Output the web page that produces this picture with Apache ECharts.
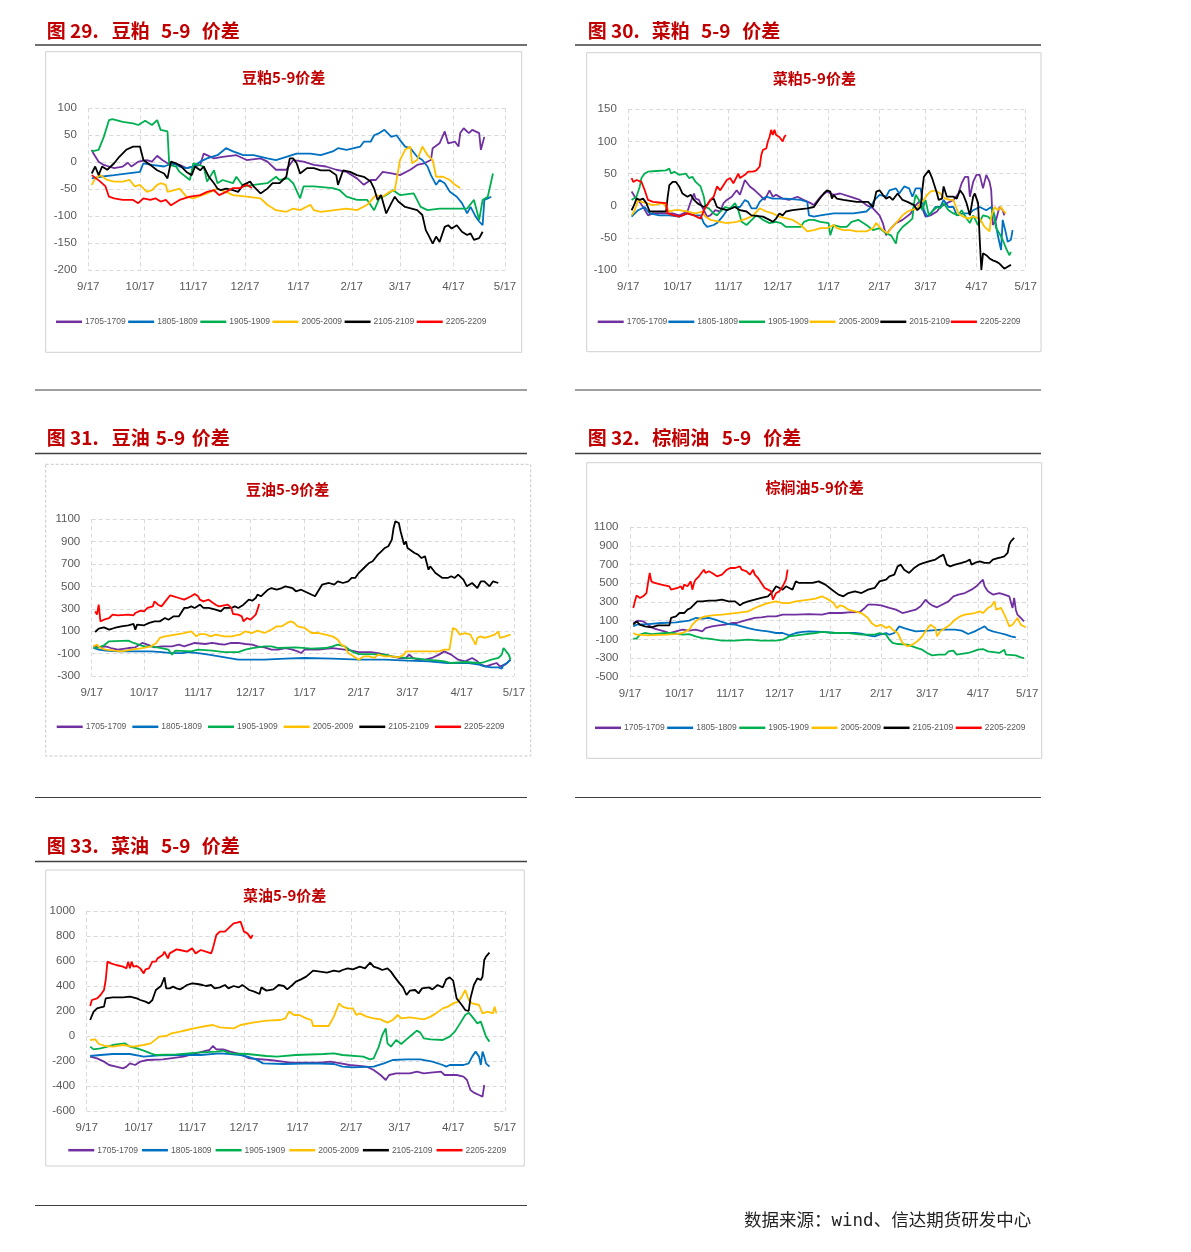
<!DOCTYPE html>
<html><head><meta charset="utf-8">
<script src="https://cdn.jsdelivr.net/npm/echarts@6/dist/echarts.min.js"></script>
<style>html,body{margin:0;padding:0;background:#fff}#c{width:1191px;height:1252px}</style>
</head><body><div id="c"></div>
<script>
// ---------- DATA ----------
const monthTicks = ['9/17','10/17','11/17','12/17','1/17','2/17','3/17','4/17','5/17'];
const namesStd = ['1705-1709','1805-1809','1905-1909','2005-2009','2105-2109','2205-2209'];
const namesRm = ['1705-1709','1805-1809','1905-1909','2005-2009','2015-2109','2205-2209'];
// each point: [day index since 9/17, value]

// 豆粕 5-9
const sm1705 = [[2,23],[3,16],[6,1],[9,-5],[12,-8],[15,-11],[20,-8],[23,-1],[25,-8],[29,1],[34,4],[37,1],[40,12],[43,4],[46,-2],[53,-5],[57,-11],[61,-8],[65,-5],[67,16],[73,7],[78,10],[86,13],[92,4],[100,7],[104,1],[109,-14],[115,-14],[119,4],[125,1],[131,-5],[138,-8],[144,-14],[150,-18],[156,-30],[160,-42],[164,-33],[167,-33],[171,-18],[177,-21],[181,-24],[187,-14],[191,-5],[195,-2],[199,4],[200,26],[204,35],[207,57],[209,35],[213,38],[215,29],[216,54],[218,63],[221,54],[223,60],[227,54],[228,23],[230,47]];
const sm1805 = [[2,-30],[7,-27],[15,-24],[30,-18],[32,-2],[37,-5],[44,-8],[49,-2],[53,-8],[57,-11],[61,-8],[65,1],[69,7],[75,13],[80,26],[84,20],[90,13],[96,13],[104,7],[109,4],[115,10],[121,16],[129,16],[135,13],[142,20],[145,26],[150,23],[158,29],[160,38],[164,38],[166,50],[169,54],[172,60],[176,47],[179,50],[181,41],[184,29],[187,26],[191,10],[194,4],[197,-8],[199,-24],[202,-42],[204,-33],[207,-39],[210,-55],[214,-64],[217,-76],[220,-95],[222,-83],[225,-101],[227,-110],[229,-117],[230,-70],[232,-67],[234,-64]];
const sm1905 = [[2,20],[6,23],[9,47],[12,78],[14,80],[20,75],[26,72],[29,69],[33,77],[37,69],[40,78],[42,60],[46,57],[47,-5],[51,-8],[53,-18],[59,-33],[61,-2],[67,-8],[69,-36],[73,-15],[75,-39],[78,-33],[84,-39],[86,-27],[90,-45],[96,-42],[104,-39],[109,-27],[111,-33],[116,-30],[119,-39],[123,-67],[125,-45],[131,-45],[142,-48],[146,-52],[150,-64],[156,-70],[162,-70],[166,-89],[169,-67],[173,-61],[177,-52],[181,-61],[189,-58],[193,-83],[197,-89],[204,-86],[212,-86],[220,-86],[224,-70],[227,-107],[229,-70],[232,-64],[233,-61],[235,-21]];
const sm2005 = [[2,-42],[4,-30],[7,-24],[11,-33],[15,-36],[20,-36],[24,-33],[27,-45],[30,-42],[34,-55],[37,-52],[40,-42],[42,-39],[45,-42],[46,-55],[50,-52],[53,-49],[57,-64],[61,-67],[69,-58],[75,-49],[80,-55],[84,-61],[92,-64],[100,-67],[104,-79],[109,-89],[115,-92],[119,-86],[123,-89],[129,-79],[131,-89],[135,-92],[150,-86],[156,-89],[162,-79],[167,-61],[171,-64],[175,-55],[178,-52],[181,4],[184,23],[187,29],[188,-2],[191,4],[194,29],[197,13],[200,4],[202,-27],[206,-27],[210,-33],[213,-42],[216,-48]];
const sm2105 = [[2,-21],[4,-8],[6,-24],[8,-8],[11,-14],[15,-2],[18,10],[22,23],[26,29],[30,29],[32,4],[36,-5],[40,-15],[44,-21],[46,-30],[48,1],[51,-2],[54,-8],[57,-18],[60,-24],[62,-8],[65,-15],[67,-8],[70,-27],[73,-39],[75,-49],[77,-52],[80,-49],[84,-52],[87,-55],[90,-42],[94,-36],[96,-45],[100,-58],[104,-49],[107,-39],[111,-39],[115,-27],[117,7],[119,7],[121,-2],[123,-21],[127,-11],[131,-11],[135,-15],[140,-15],[144,-24],[145,-42],[148,-15],[152,-18],[156,-24],[160,-27],[164,-36],[166,-49],[168,-70],[170,-61],[173,-95],[176,-76],[178,-64],[180,-73],[184,-83],[191,-89],[194,-98],[196,-126],[198,-138],[200,-151],[202,-138],[204,-148],[207,-120],[209,-117],[211,-123],[214,-117],[217,-129],[220,-135],[222,-132],[224,-144],[227,-141],[228,-135],[229,-129]];
const sm2205 = [[2,-24],[7,-36],[10,-45],[12,-64],[15,-67],[20,-70],[26,-70],[29,-76],[32,-67],[36,-70],[39,-67],[42,-73],[45,-70],[48,-80],[53,-70],[59,-64],[65,-61],[69,-55],[73,-52],[76,-61],[80,-55],[84,-48],[88,-48],[92,-42],[95,-48]];

// 菜粕 5-9
const rm1705 = [[2,22],[4,14],[6,9],[9,-2],[12,-15],[15,-12],[21,-12],[27,-12],[31,-15],[36,-9],[38,6],[40,19],[41,11],[43,9],[45,-2],[48,-17],[50,-15],[53,-7],[56,-9],[58,4],[60,9],[63,14],[66,24],[68,17],[71,40],[72,43],[74,30],[77,24],[80,17],[83,9],[86,24],[88,14],[90,17],[94,11],[98,9],[103,14],[107,9],[111,4],[113,1],[117,14],[121,22],[125,17],[129,19],[135,14],[141,9],[145,1],[149,-4],[153,-15],[155,-27],[157,-46],[159,-38],[163,-27],[167,-22],[172,-12],[174,-2],[177,6],[179,-4],[181,-17],[184,-15],[188,-9],[190,-2],[194,4],[198,9],[201,19],[203,35],[205,45],[207,45],[208,14],[210,37],[212,48],[214,48],[216,27],[218,48],[220,37],[221,24],[222,-30],[224,-22],[226,-2],[228,-7],[229,-15]];
const rm1805 = [[2,-17],[4,-12],[6,-7],[10,-2],[13,-12],[19,-15],[25,-15],[31,-17],[36,-12],[40,-15],[44,-15],[46,-27],[48,-33],[52,-30],[54,-27],[58,-15],[60,-7],[64,-2],[68,-2],[71,9],[73,6],[75,-4],[78,-4],[80,6],[82,11],[84,14],[88,11],[96,11],[105,9],[109,6],[110,-15],[113,-17],[117,-15],[125,-12],[137,-12],[145,-9],[147,-4],[150,9],[153,17],[157,14],[159,24],[163,27],[165,19],[168,30],[171,27],[173,14],[175,27],[178,27],[180,-7],[182,-17],[185,-9],[187,-2],[190,-2],[192,9],[195,-2],[198,-2],[200,-15],[204,-12],[208,-12],[210,-7],[214,-2],[218,-7],[221,-2],[223,-15],[225,-46],[227,-69],[228,-22],[230,-43],[231,-56],[233,-53],[234,-38]];
const rm1905 = [[2,9],[5,14],[7,30],[8,43],[10,50],[12,53],[17,54],[23,55],[25,58],[26,50],[28,53],[31,48],[35,50],[37,43],[39,45],[41,37],[44,30],[46,14],[47,-2],[49,-4],[52,-12],[54,-15],[56,-9],[59,-2],[62,-4],[65,4],[67,-7],[69,-25],[72,-30],[76,-20],[78,-15],[82,-22],[86,-27],[90,-25],[93,-27],[96,-33],[105,-33],[107,-25],[110,-22],[113,-22],[117,-25],[122,-27],[123,-46],[125,-30],[129,-33],[133,-33],[136,-25],[140,-22],[145,-30],[149,-38],[153,-35],[157,-43],[160,-46],[163,-59],[164,-43],[167,-33],[170,-27],[173,-20],[174,4],[175,17],[177,9],[179,-7],[181,9],[183,-15],[185,-9],[188,-2],[190,-4],[192,4],[195,-7],[198,-12],[201,-15],[203,-7],[206,-20],[208,-27],[210,-15],[213,-30],[216,-15],[219,-17],[221,-22],[222,-4],[224,-35],[226,-43],[228,-53],[230,-66],[232,-77],[233,-72]];
const rm2005 = [[2,-15],[4,-7],[6,9],[8,6],[11,4],[15,1],[21,4],[23,-2],[25,-9],[28,-7],[31,-7],[36,-9],[41,-12],[45,-9],[47,-17],[50,-22],[56,-25],[60,-27],[66,-25],[72,-20],[76,-15],[80,-4],[84,-9],[88,-12],[92,-17],[100,-22],[105,-30],[109,-40],[113,-38],[117,-35],[121,-35],[125,-30],[127,-35],[131,-38],[135,-38],[139,-40],[145,-40],[149,-35],[151,-27],[153,-33],[155,-38],[158,-43],[160,-35],[163,-27],[167,-15],[170,-9],[172,-7],[176,-4],[178,4],[180,9],[182,17],[184,22],[187,24],[190,19],[193,11],[196,9],[198,9],[201,-12],[204,-17],[207,-20],[210,-17],[214,-20],[217,-33],[220,-40],[221,-17],[223,-2],[225,-7],[227,-2],[228,-7],[230,-12]];
const rm2105 = [[2,-7],[3,-2],[4,4],[5,11],[7,9],[9,11],[11,4],[13,-9],[15,-9],[23,-9],[24,14],[25,32],[27,37],[29,37],[31,30],[33,19],[36,14],[38,17],[40,9],[42,4],[46,-2],[48,1],[50,9],[52,11],[54,-2],[56,-4],[60,-7],[65,-2],[68,-7],[72,-9],[75,-15],[82,-17],[86,-22],[88,-25],[90,-20],[92,-12],[94,-15],[96,-9],[100,-7],[109,-4],[113,-2],[116,9],[119,19],[121,24],[123,22],[124,11],[125,17],[127,11],[131,9],[139,6],[146,6],[149,-2],[151,22],[153,24],[155,17],[157,11],[159,14],[161,9],[164,19],[167,9],[170,6],[174,1],[176,-7],[178,-2],[179,24],[180,45],[183,55],[184,58],[185,43],[186,35],[188,19],[189,9],[191,11],[192,30],[194,14],[198,14],[200,11],[202,24],[204,17],[206,4],[208,-15],[210,14],[211,19],[213,4],[214,-53],[215,-100],[216,-74],[218,-77],[220,-82],[222,-85],[224,-87],[226,-90],[229,-98],[231,-95],[233,-92]];
const rm2205 = [[2,43],[3,37],[5,40],[6,43],[8,37],[10,24],[12,9],[15,6],[23,4],[24,-12],[28,-15],[31,-17],[36,-12],[40,-15],[44,-20],[46,-7],[50,9],[52,14],[54,30],[56,24],[60,40],[62,43],[64,35],[67,50],[68,43],[71,48],[73,53],[76,53],[78,55],[80,61],[81,79],[82,87],[84,89],[85,100],[86,107],[87,118],[88,110],[89,118],[90,110],[92,107],[94,100],[95,107],[96,110]];

// 豆油 5-9
const yo1705 = [[1,-35],[4,-44],[8,-35],[11,-50],[15,-65],[21,-50],[25,-44],[29,-5],[32,-20],[36,-44],[40,-35],[46,-35],[50,-20],[53,-35],[59,-5],[65,-14],[69,-5],[73,-14],[76,-20],[80,-5],[84,-5],[88,-14],[92,-20],[95,-35],[99,-44],[103,-65],[107,-65],[111,-50],[115,-65],[118,-80],[120,-95],[122,-65],[130,-65],[138,-50],[145,-65],[149,-74],[153,-86],[160,-86],[164,-95],[168,-109],[172,-124],[176,-139],[180,-139],[182,-109],[184,-139],[187,-154],[191,-154],[195,-139],[199,-109],[202,-80],[206,-109],[210,-154],[214,-169],[218,-139],[221,-169],[223,-199],[226,-214],[229,-199],[232,-184],[234,-214],[235,-229],[237,-199],[239,-169],[240,-154]];
const yo1805 = [[1,-50],[4,-65],[8,-74],[15,-80],[27,-80],[34,-80],[40,-86],[46,-95],[52,-95],[55,-86],[61,-95],[67,-109],[73,-124],[78,-139],[84,-154],[99,-154],[111,-145],[122,-139],[138,-145],[153,-154],[168,-154],[181,-163],[193,-169],[204,-184],[216,-184],[222,-199],[225,-214],[229,-223],[233,-223],[235,-235],[236,-199],[238,-184],[240,-154]];
const yo1905 = [[1,-50],[4,-44],[7,-26],[10,10],[11,16],[21,16],[24,-5],[27,-20],[30,-35],[34,-35],[40,-50],[44,-65],[46,-109],[48,-74],[57,-80],[61,-65],[69,-74],[76,-86],[84,-86],[88,-65],[92,-50],[99,-35],[103,-35],[107,-50],[117,-44],[126,-56],[134,-50],[138,-35],[141,-20],[145,-35],[149,-80],[153,-104],[160,-104],[168,-109],[172,-124],[180,-139],[187,-145],[191,-154],[199,-163],[202,-169],[206,-184],[214,-175],[222,-184],[225,-175],[229,-154],[233,-139],[235,-109],[236,-50],[237,-65],[239,-109],[240,-154]];
const yo2005 = [[1,-35],[3,-20],[5,-50],[8,-65],[13,-74],[17,-80],[23,-65],[29,-50],[34,-35],[37,-5],[39,40],[42,54],[48,69],[53,84],[57,99],[60,54],[62,75],[65,75],[68,54],[71,69],[76,54],[80,54],[85,69],[88,99],[92,84],[95,105],[99,84],[103,114],[106,144],[109,144],[112,174],[114,188],[116,174],[118,144],[122,129],[126,84],[130,84],[134,69],[138,54],[141,25],[143,-20],[145,-35],[147,-95],[150,-124],[153,-154],[156,-124],[159,-124],[162,-139],[164,-109],[168,-124],[172,-124],[176,-133],[179,-109],[180,-80],[183,-80],[187,-80],[195,-80],[199,-80],[202,-65],[205,-65],[207,129],[209,114],[211,69],[214,84],[217,69],[220,-20],[221,40],[223,54],[225,40],[228,54],[231,69],[233,99],[234,40],[237,54],[240,69]];
const yo2105 = [[2,93],[4,123],[7,135],[10,114],[13,129],[17,144],[21,153],[24,165],[25,114],[26,159],[30,153],[33,174],[36,188],[39,188],[42,218],[44,203],[47,233],[50,233],[53,308],[55,308],[57,322],[59,308],[62,337],[64,308],[67,308],[71,293],[74,278],[76,308],[80,308],[82,322],[84,308],[87,337],[90,382],[92,373],[94,397],[95,427],[97,412],[101,471],[103,486],[106,471],[109,486],[111,501],[115,486],[117,457],[120,471],[124,442],[128,412],[132,516],[136,531],[139,516],[141,546],[144,531],[147,546],[149,576],[151,576],[153,620],[156,665],[159,710],[161,725],[164,784],[166,814],[168,844],[170,859],[172,918],[173,1023],[174,1082],[176,1067],[177,993],[179,874],[180,903],[181,844],[185,799],[187,784],[189,754],[191,769],[193,650],[194,680],[197,620],[201,576],[204,576],[206,591],[208,576],[210,605],[213,561],[215,501],[218,531],[221,486],[223,546],[225,546],[228,501],[230,546],[233,531]];
const yo2205 = [[2,278],[3,248],[4,337],[5,188],[7,203],[10,218],[11,233],[12,248],[15,242],[21,248],[24,242],[25,263],[28,284],[30,278],[32,308],[33,293],[35,322],[36,367],[38,337],[40,322],[43,382],[45,421],[47,412],[50,397],[53,382],[57,412],[59,433],[61,412],[62,382],[64,367],[67,382],[71,337],[73,322],[76,331],[78,337],[80,308],[81,254],[84,248],[86,233],[87,188],[89,218],[91,203],[94,248],[95,293],[96,343]];

// 棕榈油 5-9
const py1705 = [[2,75],[3,93],[5,100],[8,93],[11,57],[14,21],[17,4],[21,-14],[24,-32],[28,-14],[32,4],[36,-7],[40,4],[44,-14],[46,21],[50,39],[54,50],[58,57],[62,75],[65,75],[68,93],[72,111],[76,129],[80,136],[84,146],[89,146],[93,164],[101,164],[109,171],[117,164],[121,182],[129,182],[133,189],[140,193],[143,236],[145,271],[149,271],[153,264],[158,236],[162,218],[166,182],[170,200],[174,218],[177,254],[180,325],[182,289],[184,264],[187,243],[190,271],[194,307],[197,361],[200,379],[204,396],[208,432],[211,468],[213,504],[215,539],[216,468],[218,414],[221,379],[225,396],[228,379],[231,361],[233,236],[234,343],[235,218],[236,164],[238,129],[240,93]];
const py1805 = [[2,39],[4,57],[11,64],[19,75],[28,82],[36,100],[40,129],[44,121],[48,129],[52,111],[56,86],[60,64],[64,57],[68,39],[72,21],[76,4],[80,-7],[84,-14],[89,-32],[93,-32],[97,-57],[101,-32],[105,-21],[109,-14],[117,-21],[125,-32],[137,-32],[141,-39],[145,-57],[149,-68],[152,-50],[156,-32],[158,-50],[161,-32],[164,39],[167,21],[170,4],[174,-14],[182,-7],[190,4],[198,4],[202,-7],[206,-43],[210,-14],[214,21],[216,39],[218,4],[221,-14],[225,-32],[229,-50],[232,-68],[235,-79]];
const py1905 = [[2,-93],[4,-93],[6,-50],[9,-32],[13,-43],[22,-32],[26,-32],[32,-50],[36,-43],[40,-68],[44,-86],[48,-93],[52,-104],[56,-114],[64,-114],[72,-104],[80,-114],[89,-114],[93,-104],[97,-68],[105,-50],[113,-32],[117,-21],[125,-32],[133,-32],[141,-50],[149,-50],[152,-32],[156,-50],[158,-104],[160,-139],[163,-150],[169,-157],[172,-175],[175,-193],[178,-211],[181,-246],[184,-271],[188,-264],[192,-264],[194,-229],[197,-221],[199,-264],[206,-246],[209,-229],[212,-211],[215,-204],[218,-229],[225,-246],[228,-211],[229,-264],[235,-271],[238,-293],[240,-300]];
const py2005 = [[2,-32],[4,-50],[11,-57],[22,-50],[28,-43],[32,-32],[36,4],[38,57],[40,93],[43,129],[46,146],[50,157],[56,164],[64,182],[72,200],[76,236],[80,264],[84,289],[89,307],[93,289],[97,289],[101,307],[109,325],[113,336],[117,361],[119,343],[121,325],[124,289],[126,236],[128,264],[130,254],[133,218],[137,200],[141,182],[145,129],[147,75],[150,39],[153,57],[156,21],[158,39],[160,4],[163,-32],[166,-139],[169,-175],[172,-157],[175,-121],[178,-68],[180,-14],[183,57],[186,21],[187,-68],[189,-14],[192,21],[195,57],[198,111],[201,146],[204,164],[210,182],[213,200],[215,182],[218,236],[220,254],[222,307],[223,218],[226,236],[229,129],[231,39],[233,57],[236,129],[238,57],[241,29]];
const py2105 = [[2,57],[4,93],[6,57],[9,39],[13,29],[17,50],[24,50],[25,129],[28,146],[30,182],[33,182],[35,218],[37,236],[39,271],[41,307],[44,307],[48,314],[52,314],[56,325],[60,307],[64,307],[67,264],[69,289],[72,307],[76,325],[80,343],[84,361],[87,414],[89,468],[91,450],[93,432],[95,468],[97,450],[99,432],[101,521],[103,504],[107,504],[111,504],[115,521],[119,486],[123,432],[127,379],[130,361],[133,396],[137,414],[141,396],[145,432],[149,450],[152,521],[156,539],[158,575],[161,593],[163,682],[165,700],[167,646],[170,611],[173,664],[176,700],[179,718],[182,736],[186,754],[189,789],[191,807],[193,700],[195,682],[198,700],[202,718],[205,736],[207,754],[208,700],[210,718],[213,736],[216,718],[219,718],[221,754],[224,771],[226,779],[228,789],[230,825],[231,914],[232,950],[233,968],[234,986]];
const py2205 = [[2,236],[3,307],[4,371],[6,343],[8,361],[10,396],[11,504],[12,611],[13,521],[15,504],[19,486],[24,468],[25,432],[26,450],[29,450],[31,468],[32,432],[33,486],[35,468],[37,521],[38,432],[39,504],[40,539],[42,575],[43,557],[45,646],[46,611],[48,629],[50,611],[53,575],[56,593],[59,646],[61,664],[64,664],[67,682],[68,646],[71,629],[73,593],[75,646],[76,593],[78,557],[80,504],[82,450],[84,432],[86,414],[87,325],[89,396],[91,414],[93,468],[95,539],[96,646]];

// 菜油 5-9
const co1705 = [[2,-165],[6,-179],[10,-205],[13,-232],[17,-245],[21,-259],[23,-245],[25,-219],[28,-232],[31,-205],[35,-192],[44,-187],[56,-165],[62,-144],[67,-125],[71,-112],[73,-80],[75,-107],[79,-107],[83,-125],[87,-139],[91,-160],[94,-179],[106,-192],[118,-213],[135,-213],[141,-205],[147,-219],[152,-232],[162,-245],[166,-272],[170,-312],[173,-352],[175,-312],[179,-299],[187,-299],[191,-285],[195,-299],[199,-293],[205,-285],[207,-312],[214,-312],[218,-325],[220,-352],[222,-432],[224,-453],[227,-472],[229,-485],[230,-392]];
const co1805 = [[2,-160],[8,-152],[15,-144],[25,-144],[33,-165],[42,-155],[54,-152],[66,-152],[77,-139],[83,-144],[89,-152],[93,-165],[98,-187],[102,-219],[114,-224],[131,-219],[143,-224],[148,-245],[154,-251],[166,-245],[172,-219],[177,-192],[185,-187],[193,-187],[200,-205],[206,-232],[208,-245],[210,-232],[218,-232],[221,-219],[223,-165],[225,-125],[227,-165],[228,-232],[229,-125],[230,-165],[231,-219],[233,-245]];
const co1905 = [[2,-85],[4,-107],[8,-99],[12,-85],[15,-72],[22,-59],[25,-85],[29,-99],[33,-117],[37,-139],[40,-152],[52,-147],[64,-133],[75,-125],[79,-117],[83,-139],[93,-144],[104,-160],[110,-165],[121,-152],[137,-144],[143,-139],[148,-152],[160,-165],[164,-187],[166,-179],[169,-85],[171,8],[173,61],[174,-59],[176,-85],[179,-32],[182,-64],[185,-27],[188,8],[191,43],[193,27],[195,-19],[199,-27],[206,-32],[210,-5],[213,35],[216,101],[219,168],[221,187],[223,155],[226,101],[228,115],[229,101],[231,-5],[233,-45]];
const co2005 = [[2,-32],[3,-45],[5,-27],[7,-64],[11,-80],[15,-85],[21,-72],[27,-85],[33,-72],[37,-59],[40,-27],[42,-5],[46,0],[49,21],[54,35],[58,48],[62,61],[69,80],[73,88],[77,69],[85,61],[89,88],[96,107],[104,123],[112,128],[115,141],[117,195],[120,168],[123,168],[127,141],[130,128],[131,80],[140,80],[143,155],[146,261],[148,235],[151,221],[154,221],[156,168],[158,181],[162,155],[166,141],[170,133],[174,107],[177,128],[180,168],[182,141],[187,149],[195,133],[199,155],[202,181],[206,221],[209,235],[212,261],[215,275],[217,315],[219,368],[221,288],[223,261],[227,248],[229,181],[232,195],[235,181],[236,235],[237,181]];
const co2105 = [[2,128],[3,141],[4,195],[6,221],[8,229],[10,235],[11,301],[12,315],[15,309],[21,309],[25,315],[29,301],[31,288],[34,275],[36,261],[38,288],[40,368],[41,381],[43,400],[45,469],[46,381],[48,381],[50,395],[52,381],[54,373],[56,389],[58,408],[61,421],[64,416],[67,408],[69,400],[72,408],[74,381],[77,389],[80,408],[82,381],[85,400],[88,389],[90,408],[92,389],[94,368],[97,355],[100,336],[101,389],[104,363],[108,373],[111,408],[114,400],[116,373],[119,408],[121,435],[124,453],[127,475],[131,523],[135,515],[139,507],[143,523],[146,515],[148,528],[151,541],[154,533],[158,555],[161,541],[164,587],[166,555],[169,541],[171,528],[174,541],[176,515],[178,475],[181,421],[183,389],[185,328],[187,363],[190,368],[192,341],[194,381],[198,389],[200,373],[203,408],[206,389],[208,453],[210,469],[212,443],[214,301],[217,248],[219,208],[221,200],[222,301],[224,408],[226,461],[228,448],[229,475],[230,608],[231,635],[233,667]];
const co2205 = [[2,240],[3,288],[4,275],[6,301],[8,328],[10,368],[11,448],[12,595],[13,608],[14,581],[17,568],[21,555],[23,541],[24,595],[25,541],[26,595],[27,555],[29,560],[31,541],[33,501],[34,533],[36,541],[38,595],[40,595],[41,621],[42,635],[44,648],[45,675],[47,621],[48,661],[52,693],[54,688],[55,675],[58,675],[61,701],[63,661],[66,688],[69,675],[72,661],[73,701],[75,808],[77,835],[80,835],[81,848],[83,875],[85,901],[87,907],[89,915],[90,901],[91,835],[93,821],[94,821],[95,781],[96,808]];

// ---------- RENDER ----------
const COLORS = ['#7030a0','#0070c0','#00b050','#ffc000','#000000','#ff0000'];
const dayLabels = [];
for (let i = 0; i <= 242; i++) { const d = new Date(2021, 8, 17 + i); dayLabels.push((d.getMonth() + 1) + '/' + d.getDate()); }
const isMonthTick = (idx, val) => monthTicks.indexOf(val) >= 0;

const panels = [
  { title:'豆粕5-9价差', tx:283.7, ty:77.7, grid:{left:88.3, top:108.3, width:416.7, height:161.7}, y:[-200,100,50],
    names:namesStd, data:[sm1705,sm1805,sm1905,sm2005,sm2105,sm2205], legend:{left:56, cy:323.3, gap:2.5},
    head:[['图 29.',46.7],['豆粕',111.7],['5-9',161],['价差',201.7]], hy:30.7, box:[45.7,51.7,476,300.6,false] },
  { title:'菜粕5-9价差', tx:814.3, ty:78.3, grid:{left:628.3, top:109.3, width:397.4, height:160.7}, y:[-100,150,50],
    names:namesRm, data:[rm1705,rm1805,rm1905,rm2005,rm2105,rm2205], legend:{left:597.7, cy:323.3, gap:1},
    head:[['图 30.',587.7],['菜粕',651.7],['5-9',701],['价差',742.3]], hy:30.7, box:[586.7,52.7,454.3,299,false] },
  { title:'豆油5-9价差', tx:287.7, ty:489.3, grid:{left:91.7, top:519.3, width:422.3, height:156.7}, y:[-300,1100,200],
    names:namesStd, data:[yo1705,yo1805,yo1905,yo2005,yo2105,yo2205], legend:{left:56.7, cy:728.3, gap:6},
    head:[['图 31.',46.7],['豆油',111.7],['5-9',155.7],['价差',191.7]], hy:437.3, box:[45.7,464.3,485,291.7,true] },
  { title:'棕榈油5-9价差', tx:814.7, ty:487.7, grid:{left:630, top:527.3, width:397.3, height:149.4}, y:[-500,1100,200],
    names:namesStd, data:[py1705,py1805,py1905,py2005,py2105,py2205], legend:{left:595, cy:729.3, gap:2.5},
    head:[['图 32.',587.7],['棕榈油',652.3],['5-9',721.7],['价差',763.3]], hy:437.3, box:[586.7,462.7,455,295.6,false] },
  { title:'菜油5-9价差', tx:284.7, ty:895, grid:{left:86.7, top:911, width:418.3, height:200}, y:[-600,1000,200],
    names:namesStd, data:[co1705,co1805,co1905,co2005,co2105,co2205], legend:{left:68.3, cy:1151.7, gap:4},
    head:[['图 33.',46.7],['菜油',111],['5-9',161],['价差',201.7]], hy:846, box:[45.7,870,478.6,296,false] }
];

const grids = [], xAxes = [], yAxes = [], series = [], legends = [], graphics = [];
const labelColor = '#595959';
const gridLine = { show:true, lineStyle:{ color:'#d9d9d9', type:[4,3], width:1 } };

panels.forEach((p, i) => {
  grids.push(Object.assign({ containLabel:false }, p.grid));
  xAxes.push({ type:'category', gridIndex:i, data:dayLabels, boundaryGap:false,
    axisLine:{show:false}, axisTick:{show:false},
    axisLabel:{ interval:isMonthTick, color:labelColor, fontSize:11.5, margin:11, fontFamily:'Liberation Sans, Arial, sans-serif', showMinLabel:true, showMaxLabel:true },
    splitLine:{ show:true, interval:isMonthTick, lineStyle:{ color:'#d9d9d9', type:[4,3], width:1 } } });
  yAxes.push({ type:'value', gridIndex:i, min:p.y[0], max:p.y[1], interval:p.y[2],
    axisLine:{show:false}, axisTick:{show:false},
    axisLabel:{ color:labelColor, fontSize:11.5, margin:11.5, fontFamily:'Liberation Sans, Arial, sans-serif', formatter:(v) => String(v) },
    splitLine:gridLine });
  p.data.forEach((d, k) => {
    series.push({ type:'line', name:p.names[k], xAxisIndex:i, yAxisIndex:i, data:d,
      symbol:'none', showSymbol:false, smooth:false, animation:false,
      lineStyle:{ color:COLORS[k], width:1.8 }, itemStyle:{ color:COLORS[k] }, z:2 + k });
  });
  legends.push({ data:p.names, left:p.legend.left, top:p.legend.cy - 6, orient:'horizontal',
    icon:'rect', itemWidth:26, itemHeight:2.5, itemGap:p.legend.gap, selectedMode:false, padding:0,
    textStyle:{ color:labelColor, fontSize:8.5, fontFamily:'Liberation Sans, Arial, sans-serif', padding:[0,0,0,-2] } });
  const b = p.box;
  graphics.push({ type:'rect', z:-10, silent:true, shape:{x:b[0], y:b[1], width:b[2], height:b[3]},
    style:{ fill:'#fff', stroke: b[4] ? '#c8c8c8' : '#d0d0d0', lineWidth:1, lineDash: b[4] ? [3,2] : null } });
  graphics.push({ type:'text', z:10, x:p.tx, y:p.ty, style:{ text:p.title, fill:'#c00000',
    font:'bold 15px "Noto Sans CJK SC", sans-serif', align:'center', verticalAlign:'middle' } });
  p.head.forEach(h => {
    graphics.push({ type:'text', z:10, x:h[1], y:p.hy, style:{ text:h[0], fill:'#c00000',
      font:'bold 19px "Noto Sans CJK SC", sans-serif', align:'left', verticalAlign:'middle' } });
  });
});

const rules = [
  [35,45,527,45,1.6],[575,45,1041,45,1.6],[35,453.5,527,453.5,1.6],[575,453.5,1041,453.5,1.6],[35,861.5,527,861.5,1.6],
  [35,390,527,390,1],[575,390,1041,390,1],[35,797.5,527,797.5,1],[575,797.5,1041,797.5,1],[35,1205.5,527,1205.5,1]
];
rules.forEach(r => graphics.push({ type:'line', z:10, silent:true, shape:{x1:r[0],y1:r[1],x2:r[2],y2:r[3]}, style:{stroke:'#404040', lineWidth:r[4]} }));
graphics.push({ type:'text', z:10, x:744, y:1221, style:{ text:'数据来源：wind、信达期货研发中心', fill:'#222',
  font:'17.5px "DejaVu Sans Mono", "Noto Sans CJK SC", monospace', align:'left', verticalAlign:'middle' } });

const chart = echarts.init(document.getElementById('c'), null, { renderer:'canvas' });
chart.setOption({
  backgroundColor:'#fff', animation:false,
  grid:grids, xAxis:xAxes, yAxis:yAxes, series:series, legend:legends,
  graphic:{ elements:graphics }, tooltip:{show:false}
});
</script></body></html>
